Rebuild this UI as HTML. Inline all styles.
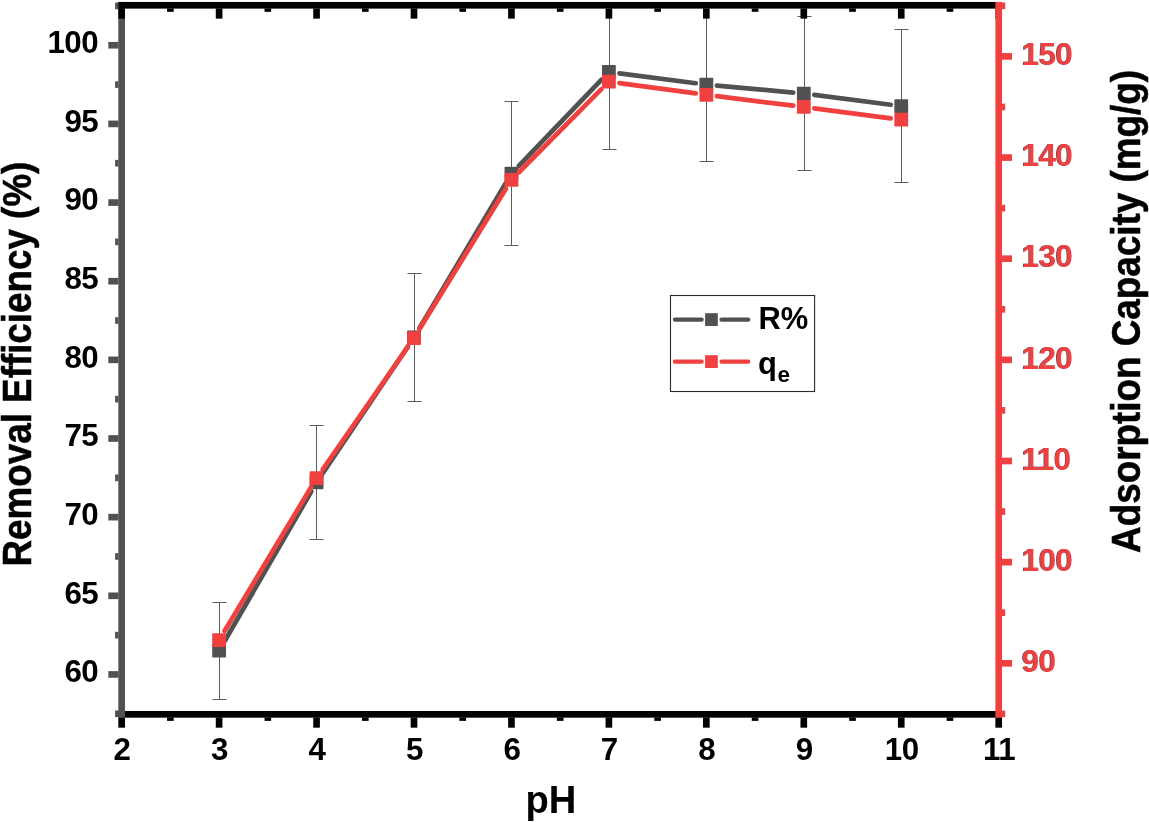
<!DOCTYPE html>
<html lang="en">
<head>
<meta charset="utf-8">
<title>Effect of pH on removal efficiency and adsorption capacity</title>
<style>
html,body{margin:0;padding:0;background:#fff;}
body{width:1149px;height:822px;overflow:hidden;position:relative;}
svg{display:block;}
text{font-kerning:normal;}
.rl{position:absolute;height:40px;line-height:40px;letter-spacing:-0.5px;font:bold 31.3px/40px 'Liberation Sans',Arial,sans-serif;color:#F14040;text-shadow:-0.7px 0 0 rgba(35,28,55,.8);white-space:nowrap;}
</style>
</head>
<body>
<svg width="1149" height="822" viewBox="0 0 1149 822">
<rect width="1149" height="822" fill="#fff"/>
<clipPath id="plot"><rect x="124.98" y="8.62" width="870.40" height="702.40"/></clipPath>
<g id="line-r" stroke="#515151" stroke-width="4.7" stroke-linecap="round" fill="none">
<line x1="224.41" y1="641.52" x2="311.24" y2="491.56"/>
<line x1="322.46" y1="473.59" x2="408.09" y2="346.15"/>
<line x1="419.42" y1="328.25" x2="506.03" y2="182.72"/>
<line x1="518.79" y1="165.96" x2="601.56" y2="79.64"/>
<line x1="619.41" y1="73.35" x2="695.84" y2="83.22"/>
<line x1="716.91" y1="85.55" x2="793.24" y2="92.57"/>
<line x1="814.31" y1="94.90" x2="890.74" y2="104.77"/>
</g>
<g id="errbars" clip-path="url(#plot)" stroke="#5c5c5c" stroke-width="1" fill="none">
<path d="M219.50 602.50V699.50M212.50 602.50h14M212.50 699.50h14"/>
<path d="M316.50 425.50V539.50M309.50 425.50h14M309.50 539.50h14"/>
<path d="M414.50 273.50V401.50M407.50 273.50h14M407.50 401.50h14"/>
<path d="M511.50 101.50V245.50M504.50 101.50h14M504.50 245.50h14"/>
<path d="M609.50 -5.50V149.50M602.50 -5.50h14M602.50 149.50h14"/>
<path d="M706.50 7.50V161.50M699.50 7.50h14M699.50 161.50h14"/>
<path d="M804.50 16.50V170.50M797.50 16.50h14M797.50 170.50h14"/>
<path d="M901.50 29.50V182.50M894.50 29.50h14M894.50 182.50h14"/>
</g>
<g id="axis-bottom">
<rect x="118.33" y="711.02" width="883.70" height="6.65" fill="#000"/>
<rect x="118.33" y="717.48" width="6.65" height="10.20" fill="#000"/>
<rect x="167.05" y="717.48" width="6.65" height="3.40" fill="#000"/>
<rect x="215.78" y="717.48" width="6.65" height="10.20" fill="#000"/>
<rect x="264.50" y="717.48" width="6.65" height="3.40" fill="#000"/>
<rect x="313.23" y="717.48" width="6.65" height="10.20" fill="#000"/>
<rect x="361.95" y="717.48" width="6.65" height="3.40" fill="#000"/>
<rect x="410.68" y="717.48" width="6.65" height="10.20" fill="#000"/>
<rect x="459.40" y="717.48" width="6.65" height="3.40" fill="#000"/>
<rect x="508.13" y="717.48" width="6.65" height="10.20" fill="#000"/>
<rect x="556.85" y="717.48" width="6.65" height="3.40" fill="#000"/>
<rect x="605.57" y="717.48" width="6.65" height="10.20" fill="#000"/>
<rect x="654.30" y="717.48" width="6.65" height="3.40" fill="#000"/>
<rect x="703.02" y="717.48" width="6.65" height="10.20" fill="#000"/>
<rect x="751.75" y="717.48" width="6.65" height="3.40" fill="#000"/>
<rect x="800.47" y="717.48" width="6.65" height="10.20" fill="#000"/>
<rect x="849.20" y="717.48" width="6.65" height="3.40" fill="#000"/>
<rect x="897.92" y="717.48" width="6.65" height="10.20" fill="#000"/>
<rect x="946.65" y="717.48" width="6.65" height="3.40" fill="#000"/>
<rect x="995.38" y="717.48" width="6.65" height="10.20" fill="#000"/>
</g>
<g id="axis-left">
<rect x="118.33" y="1.97" width="6.65" height="715.70" fill="#515151"/>
<rect x="108.33" y="671.12" width="10.20" height="6.65" fill="#515151"/>
<rect x="108.33" y="592.48" width="10.20" height="6.65" fill="#515151"/>
<rect x="108.33" y="513.83" width="10.20" height="6.65" fill="#515151"/>
<rect x="108.33" y="435.18" width="10.20" height="6.65" fill="#515151"/>
<rect x="108.33" y="356.53" width="10.20" height="6.65" fill="#515151"/>
<rect x="108.33" y="277.88" width="10.20" height="6.65" fill="#515151"/>
<rect x="108.33" y="199.23" width="10.20" height="6.65" fill="#515151"/>
<rect x="108.33" y="120.58" width="10.20" height="6.65" fill="#515151"/>
<rect x="108.33" y="41.92" width="10.20" height="6.65" fill="#515151"/>
<rect x="115.12" y="710.45" width="3.40" height="6.65" fill="#515151"/>
<rect x="115.12" y="631.80" width="3.40" height="6.65" fill="#515151"/>
<rect x="115.12" y="553.15" width="3.40" height="6.65" fill="#515151"/>
<rect x="115.12" y="474.50" width="3.40" height="6.65" fill="#515151"/>
<rect x="115.12" y="395.85" width="3.40" height="6.65" fill="#515151"/>
<rect x="115.12" y="317.20" width="3.40" height="6.65" fill="#515151"/>
<rect x="115.12" y="238.55" width="3.40" height="6.65" fill="#515151"/>
<rect x="115.12" y="159.90" width="3.40" height="6.65" fill="#515151"/>
<rect x="115.12" y="81.25" width="3.40" height="6.65" fill="#515151"/>
<rect x="115.12" y="2.60" width="3.40" height="6.65" fill="#515151"/>
</g>
<g id="axis-top">
<rect x="118.33" y="1.97" width="883.70" height="6.65" fill="#000"/>
<rect x="118.33" y="8.43" width="6.65" height="10.20" fill="#000"/>
<rect x="167.05" y="8.43" width="6.65" height="3.40" fill="#000"/>
<rect x="215.78" y="8.43" width="6.65" height="10.20" fill="#000"/>
<rect x="264.50" y="8.43" width="6.65" height="3.40" fill="#000"/>
<rect x="313.23" y="8.43" width="6.65" height="10.20" fill="#000"/>
<rect x="361.95" y="8.43" width="6.65" height="3.40" fill="#000"/>
<rect x="410.68" y="8.43" width="6.65" height="10.20" fill="#000"/>
<rect x="459.40" y="8.43" width="6.65" height="3.40" fill="#000"/>
<rect x="508.13" y="8.43" width="6.65" height="10.20" fill="#000"/>
<rect x="556.85" y="8.43" width="6.65" height="3.40" fill="#000"/>
<rect x="605.57" y="8.43" width="6.65" height="10.20" fill="#000"/>
<rect x="654.30" y="8.43" width="6.65" height="3.40" fill="#000"/>
<rect x="703.02" y="8.43" width="6.65" height="10.20" fill="#000"/>
<rect x="751.75" y="8.43" width="6.65" height="3.40" fill="#000"/>
<rect x="800.47" y="8.43" width="6.65" height="10.20" fill="#000"/>
<rect x="849.20" y="8.43" width="6.65" height="3.40" fill="#000"/>
<rect x="897.92" y="8.43" width="6.65" height="10.20" fill="#000"/>
<rect x="946.65" y="8.43" width="6.65" height="3.40" fill="#000"/>
<rect x="995.38" y="8.43" width="6.65" height="10.20" fill="#000"/>
</g>
<g id="axis-right">
<rect x="995.38" y="1.97" width="6.65" height="715.70" fill="#F14040"/>
<rect x="1001.83" y="659.97" width="10.20" height="6.65" fill="#F14040"/>
<rect x="1001.83" y="558.82" width="10.20" height="6.65" fill="#F14040"/>
<rect x="1001.83" y="457.68" width="10.20" height="6.65" fill="#F14040"/>
<rect x="1001.83" y="356.52" width="10.20" height="6.65" fill="#F14040"/>
<rect x="1001.83" y="255.38" width="10.20" height="6.65" fill="#F14040"/>
<rect x="1001.83" y="154.23" width="10.20" height="6.65" fill="#F14040"/>
<rect x="1001.83" y="53.07" width="10.20" height="6.65" fill="#F14040"/>
<rect x="1001.83" y="710.55" width="3.40" height="6.65" fill="#F14040"/>
<rect x="1001.83" y="609.40" width="3.40" height="6.65" fill="#F14040"/>
<rect x="1001.83" y="508.25" width="3.40" height="6.65" fill="#F14040"/>
<rect x="1001.83" y="407.10" width="3.40" height="6.65" fill="#F14040"/>
<rect x="1001.83" y="305.95" width="3.40" height="6.65" fill="#F14040"/>
<rect x="1001.83" y="204.80" width="3.40" height="6.65" fill="#F14040"/>
<rect x="1001.83" y="103.65" width="3.40" height="6.65" fill="#F14040"/>
<rect x="1001.83" y="2.50" width="3.40" height="6.65" fill="#F14040"/>
</g>
<g id="mk-r" fill="#515151">
<rect x="212.20" y="643.80" width="13.8" height="13.8" rx="0.8"/>
<rect x="309.65" y="475.49" width="13.8" height="13.8" rx="0.8"/>
<rect x="407.10" y="330.46" width="13.8" height="13.8" rx="0.8"/>
<rect x="504.55" y="166.71" width="13.8" height="13.8" rx="0.8"/>
<rect x="602.00" y="65.09" width="13.8" height="13.8" rx="0.8"/>
<rect x="699.45" y="77.67" width="13.8" height="13.8" rx="0.8"/>
<rect x="796.90" y="86.64" width="13.8" height="13.8" rx="0.8"/>
<rect x="894.35" y="99.23" width="13.8" height="13.8" rx="0.8"/>
</g>
<g id="line-q" stroke="#F14040" stroke-width="4.7" stroke-linecap="round" fill="none">
<line x1="224.57" y1="630.95" x2="311.08" y2="487.28"/>
<line x1="322.60" y1="469.49" x2="407.95" y2="346.80"/>
<line x1="419.56" y1="329.08" x2="505.89" y2="188.83"/>
<line x1="518.92" y1="172.28" x2="601.43" y2="89.21"/>
<line x1="619.40" y1="83.10" x2="695.85" y2="93.42"/>
<line x1="716.87" y1="96.15" x2="793.28" y2="105.66"/>
<line x1="814.31" y1="108.35" x2="890.74" y2="118.35"/>
</g>
<g id="mk-q" fill="#F14040">
<rect x="212.20" y="633.14" width="13.8" height="13.8" rx="0.8"/>
<rect x="309.65" y="471.30" width="13.8" height="13.8" rx="0.8"/>
<rect x="407.10" y="331.20" width="13.8" height="13.8" rx="0.8"/>
<rect x="504.55" y="172.90" width="13.8" height="13.8" rx="0.8"/>
<rect x="602.00" y="74.79" width="13.8" height="13.8" rx="0.8"/>
<rect x="699.45" y="87.94" width="13.8" height="13.8" rx="0.8"/>
<rect x="796.90" y="100.07" width="13.8" height="13.8" rx="0.8"/>
<rect x="894.35" y="112.82" width="13.8" height="13.8" rx="0.8"/>
</g>
<g id="labels" font-family="Liberation Sans, Arial, sans-serif" font-weight="bold" letter-spacing="-0.5">
<text x="98.20" y="682.30" text-anchor="end" font-size="31.3" fill="#000">60</text>
<text x="98.20" y="603.65" text-anchor="end" font-size="31.3" fill="#000">65</text>
<text x="98.20" y="525.00" text-anchor="end" font-size="31.3" fill="#000">70</text>
<text x="98.20" y="446.35" text-anchor="end" font-size="31.3" fill="#000">75</text>
<text x="98.20" y="367.70" text-anchor="end" font-size="31.3" fill="#000">80</text>
<text x="98.20" y="289.05" text-anchor="end" font-size="31.3" fill="#000">85</text>
<text x="98.20" y="210.40" text-anchor="end" font-size="31.3" fill="#000">90</text>
<text x="98.20" y="131.75" text-anchor="end" font-size="31.3" fill="#000">95</text>
<text x="98.20" y="53.10" text-anchor="end" font-size="31.3" fill="#000">100</text>
<text x="122.05" y="759.80" text-anchor="middle" font-size="31.3" fill="#000">2</text>
<text x="219.50" y="759.80" text-anchor="middle" font-size="31.3" fill="#000">3</text>
<text x="316.95" y="759.80" text-anchor="middle" font-size="31.3" fill="#000">4</text>
<text x="414.40" y="759.80" text-anchor="middle" font-size="31.3" fill="#000">5</text>
<text x="511.85" y="759.80" text-anchor="middle" font-size="31.3" fill="#000">6</text>
<text x="609.30" y="759.80" text-anchor="middle" font-size="31.3" fill="#000">7</text>
<text x="706.75" y="759.80" text-anchor="middle" font-size="31.3" fill="#000">8</text>
<text x="804.20" y="759.80" text-anchor="middle" font-size="31.3" fill="#000">9</text>
<text x="901.65" y="759.80" text-anchor="middle" font-size="31.3" fill="#000">10</text>
<text x="999.10" y="759.80" text-anchor="middle" font-size="31.3" fill="#000">11</text>
<text x="525.4" y="812.6" font-size="38.2" letter-spacing="0">pH</text>
<text transform="translate(31.2 566.5) rotate(-90) scale(1 1.12)" font-size="36.8" letter-spacing="0" stroke="#000" stroke-width="0.5">Removal Efficiency (%)</text>
<text transform="translate(1139.7 552.9) rotate(-90) scale(1 1.12)" font-size="36.85" letter-spacing="0" stroke="#000" stroke-width="0.5">Adsorption Capacity (mg/g)</text>
<g id="legend">
<rect x="670.5" y="295.5" width="144.1" height="96" fill="#fff" stroke="#2a2a2a" stroke-width="1.1"/>
<path d="M675 319.6H701.6M721.6 319.6H748.2" stroke="#515151" stroke-width="4.4" stroke-linecap="round"/>
<rect x="705.1" y="313.20" width="12.7" height="12.8" fill="#515151"/>
<path d="M675 361.6H701.6M721.6 361.6H748.2" stroke="#F14040" stroke-width="4.4" stroke-linecap="round"/>
<rect x="705.1" y="355.20" width="12.7" height="12.8" fill="#F14040"/>
<text x="758.4" y="329.4" font-size="30.9" letter-spacing="0">R%</text>
<text x="758.0" y="373.5" font-size="30.9" letter-spacing="0">q<tspan font-size="22.5" dx="0.6" dy="8.6">e</tspan></text>
</g>
</g>
</svg>
<div class="rl" style="left:1021.75px;top:642.00px">90</div>
<div class="rl" style="left:1021.75px;top:540.85px">100</div>
<div class="rl" style="left:1021.75px;top:439.70px">110</div>
<div class="rl" style="left:1021.75px;top:338.55px">120</div>
<div class="rl" style="left:1021.75px;top:237.40px">130</div>
<div class="rl" style="left:1021.75px;top:136.25px">140</div>
<div class="rl" style="left:1021.75px;top:35.10px">150</div>
</body>
</html>
